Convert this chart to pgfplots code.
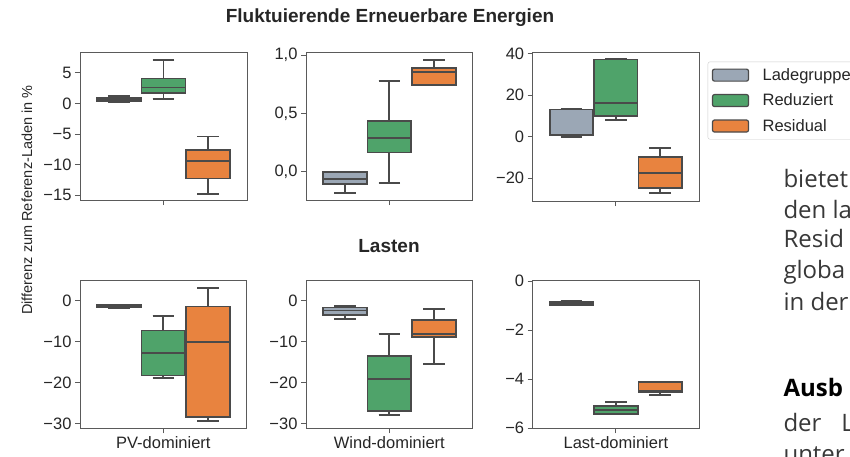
\documentclass[border=0pt]{standalone}
\usepackage{pgfplots}
\pgfplotsset{compat=1.18}
\usepgfplotslibrary{statistics}
\usepackage{fontspec}
\setmainfont{Liberation Sans}
\newfontfamily\docfont{Open Sans}
\definecolor{cgray}{HTML}{9BA7B5}
\definecolor{cgreen}{HTML}{4FA36A}
\definecolor{corange}{HTML}{E8833F}
\definecolor{edge}{HTML}{4A4A4A}
\definecolor{axc}{HTML}{5A5A5A}
\definecolor{txt}{HTML}{262626}
\pgfplotsset{
  /pgfplots/boxplot/every whisker/.style={draw=edge, line width=1.9pt},
  /pgfplots/boxplot/every median/.style={draw=edge, line width=1.9pt},
  /pgfplots/boxplot/every box/.style={draw=edge, line width=1.7pt},
  myax/.style={scale only axis, anchor=south west,
    xmin=-0.5, xmax=0.5, xtick={0},
    axis line style={draw=axc, line width=0.8pt},
    tick style={draw=axc, line width=0.8pt},
    major tick length=5pt, tick align=outside,
    ytick pos=left, xtick pos=lower,
    ticklabel style={font=\fontsize{16.5}{19}\selectfont, text=txt},
    boxplot/draw direction=y,
    boxplot/box extend=0.262, boxplot/whisker extend=0.13,
  },
}
\newcommand{\bx}[7]{\addplot[boxplot prepared={draw position=#1, lower whisker=#3, lower quartile=#4, median=#5, upper quartile=#6, upper whisker=#7}, fill=#2, draw=edge, line width=1.7pt, forget plot] coordinates {};}
\begin{document}
\begin{tikzpicture}
% Row 1
\begin{axis}[myax, at={(80pt,256pt)}, width=167pt, height=148pt,
  ymin=-15.8, ymax=8.4, ytick={-15,-10,-5,0,5},
  yticklabels={−15,−10,−5,0,5}, xticklabels={}]
\bx{-0.267}{cgray}{0.2}{0.3}{0.6}{0.9}{1.25}
\bx{0}{cgreen}{0.72}{1.7}{2.6}{4.07}{7.07}
\bx{0.267}{corange}{-14.76}{-12.3}{-9.4}{-7.6}{-5.42}
\end{axis}
\begin{axis}[myax, at={(306pt,256pt)}, width=166.7pt, height=147.7pt,
  ymin=-0.243, ymax=1.023, ytick={0,0.5,1},
  yticklabels={{0,0},{0,5},{1,0}}, xticklabels={}]
\bx{-0.267}{cgray}{-0.185}{-0.108}{-0.065}{0.0}{0.0}
\bx{0}{cgreen}{-0.1}{0.163}{0.286}{0.434}{0.78}
\bx{0.267}{corange}{0.743}{0.743}{0.857}{0.891}{0.96}
\end{axis}
\begin{axis}[myax, at={(532.7pt,255pt)}, width=166.3pt, height=148.7pt,
  ymin=-30.9, ymax=40.5, ytick={-20,0,20,40},
  yticklabels={−20,0,20,40}, xticklabels={},
  legend image code/.code={\draw[#1] (0pt,-6pt) rectangle (36pt,6pt);},
  legend style={at={(1,1)}, anchor=north west, xshift=8.7pt, yshift=-9.4pt,
    draw=black!20, rounded corners=2pt, fill=white,
    font=\fontsize{16.5}{19}\selectfont, text=txt, row sep=8pt, column sep=11.5pt,
    inner xsep=4pt, inner ysep=4.5pt},
  legend cell align=left]
\addlegendimage{fill=cgray, draw=edge, line width=1.2pt}
\addlegendentry{Ladegruppe}
\addlegendimage{fill=cgreen, draw=edge, line width=1.2pt}
\addlegendentry{Reduziert}
\addlegendimage{fill=corange, draw=edge, line width=1.2pt}
\addlegendentry{Residual}
\bx{-0.267}{cgray}{0}{0.5}{0.8}{13.0}{13.2}
\bx{0}{cgreen}{8.0}{9.9}{16.3}{37.1}{37.1}
\bx{0.267}{corange}{-27.2}{-24.8}{-17.6}{-9.9}{-5.3}
\end{axis}
% Row 2
\begin{axis}[myax, at={(80pt,27.7pt)}, width=166.7pt, height=148.3pt,
  ymin=-31.2, ymax=5.05, ytick={-30,-20,-10,0},
  yticklabels={−30,−20,−10,0}, xticklabels={PV-dominiert}]
\bx{-0.267}{cgray}{-1.9}{-1.7}{-1.4}{-1.05}{-1.0}
\bx{0}{cgreen}{-19.0}{-18.3}{-12.7}{-7.3}{-3.73}
\bx{0.267}{corange}{-29.4}{-28.4}{-10.2}{-1.46}{3.0}
\end{axis}
\begin{axis}[myax, at={(306pt,27.7pt)}, width=166.7pt, height=148.3pt,
  ymin=-31.2, ymax=5.05, ytick={-30,-20,-10,0},
  yticklabels={−30,−20,−10,0}, xticklabels={Wind-dominiert}]
\bx{-0.267}{cgray}{-4.5}{-3.5}{-2.4}{-1.7}{-1.3}
\bx{0}{cgreen}{-27.9}{-26.9}{-19.1}{-13.5}{-8.1}
\bx{0.267}{corange}{-15.5}{-8.9}{-8.1}{-4.7}{-2.0}
\end{axis}
\begin{axis}[myax, at={(532.7pt,27.7pt)}, width=166.3pt, height=148.3pt,
  ymin=-6, ymax=0.04, ytick={-6,-4,-2,0},
  yticklabels={−6,−4,−2,0}, xticklabels={Last-dominiert}]
\bx{-0.267}{cgray}{-1.0}{-0.98}{-0.93}{-0.86}{-0.82}
\bx{0}{cgreen}{-5.43}{-5.41}{-5.27}{-5.1}{-4.93}
\bx{0.267}{corange}{-4.65}{-4.54}{-4.47}{-4.11}{-4.11}
\end{axis}
% Titles and labels
\node[text=txt, font=\bfseries\fontsize{19}{22}\selectfont] at (390pt,438pt) {Fluktuierende Erneuerbare Energien};
\node[text=txt, font=\bfseries\fontsize{19}{22}\selectfont] at (389pt,210pt) {Lasten};
\node[text=txt, rotate=90, font=\fontsize{14.5}{17}\selectfont] at (27pt,256pt) {Differenz zum Referenz-Laden in \%};
% Surrounding document text
\begin{scope}[every node/.style={anchor=base west, inner sep=0pt, text=black!78, font=\docfont\fontsize{24}{29}\selectfont}]
\node at (783.3pt,268.3pt) {bietet};
\node at (783.3pt,237.7pt) {den la};
\node at (783.3pt,208.7pt) {Resid};
\node at (783.3pt,177.7pt) {globa};
\node at (783.3pt,146pt) {in der};
\node[font=\docfont\bfseries\fontsize{24}{29}\selectfont, text=black] at (783.3pt,59.3pt) {Ausb};
\node at (783.3pt,24.3pt) {der\hspace{20pt}L};
\node at (783.3pt,-6pt) {unter};
\end{scope}
\pgfresetboundingbox
\useasboundingbox (0pt,0pt) rectangle (850pt,456pt);
\end{tikzpicture}
\end{document}
